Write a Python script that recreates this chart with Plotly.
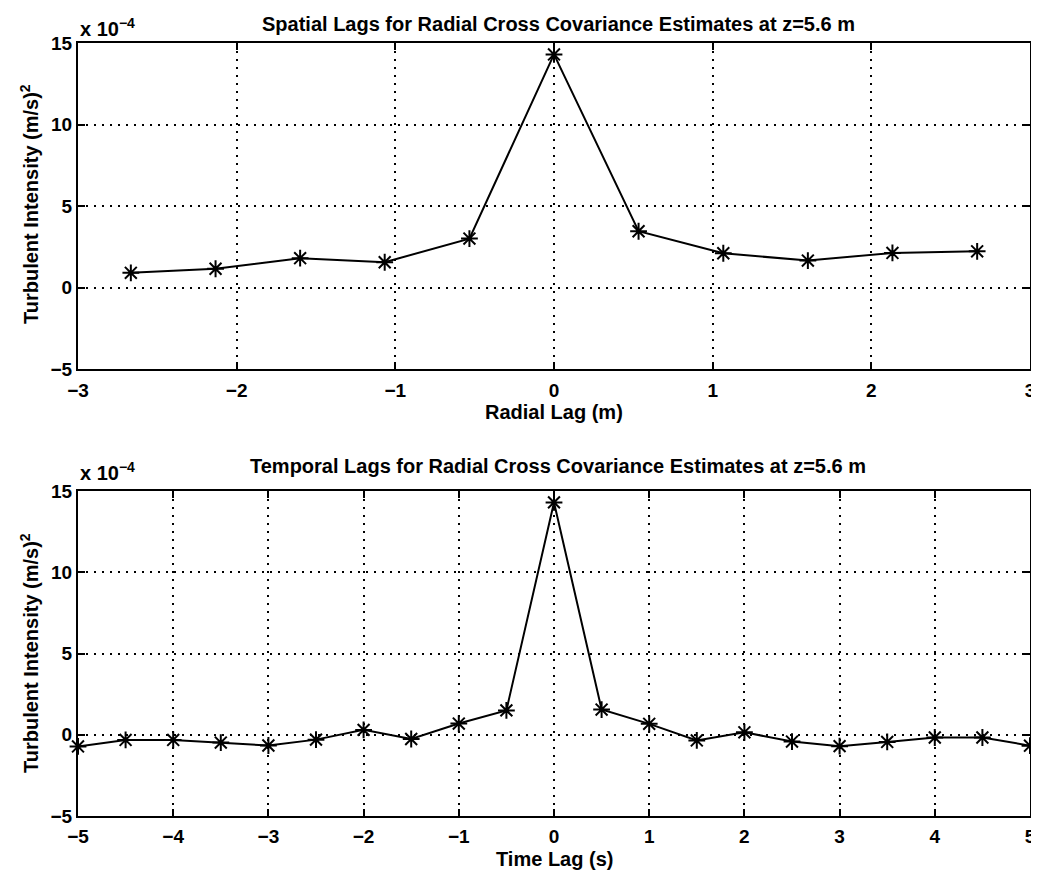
import plotly.graph_objects as go

# Top: spatial lags (m), values in units of 1e-4 (m/s)^2
radial_lag = [-2.667, -2.133, -1.6, -1.067, -0.533, 0.0, 0.533, 1.067, 1.6, 2.133, 2.667]
radial_cov = [0.9, 1.15, 1.8, 1.55, 3.0, 14.3, 3.45, 2.1, 1.65, 2.12, 2.22]

# Bottom: temporal lags (s)
time_lag = [-5, -4.5, -4, -3.5, -3, -2.5, -2, -1.5, -1, -0.5, 0, 0.5, 1, 1.5, 2, 2.5, 3, 3.5, 4, 4.5, 5]
time_cov = [-0.72, -0.32, -0.32, -0.48, -0.66, -0.3, 0.3, -0.26, 0.69, 1.5, 14.3,
            1.55, 0.67, -0.35, 0.15, -0.42, -0.7, -0.44, -0.17, -0.17, -0.67]

title_top = "Spatial Lags for Radial Cross Covariance Estimates at z=5.6 m"
title_bot = "Temporal Lags for Radial Cross Covariance Estimates at z=5.6 m"
ylabel = "Turbulent Intensity (m/s)<sup>2</sup>"
xlabel_top = "Radial Lag (m)"
xlabel_bot = "Time Lag (s)"

OFF = 8  # page body margin
W, H = 1039 - OFF, 875 - OFF
FONT = "Liberation Sans"

def px(x):
    return (x - OFF) / W

def py(y):
    return 1 - (y - OFF) / H

def lab(v):
    s = f"{v:g}".replace("-", "−")
    return f"<b>{s}</b>"

fig = go.Figure()
line = dict(color="black", width=2)
marker = dict(symbol="asterisk-open", size=14, color="black", line=dict(color="black", width=2))
fig.add_trace(go.Scatter(x=radial_lag, y=radial_cov, mode="lines+markers", line=line,
                         marker=marker, xaxis="x", yaxis="y", showlegend=False, cliponaxis=False))
fig.add_trace(go.Scatter(x=time_lag, y=time_cov, mode="lines+markers", line=line,
                         marker=marker, xaxis="x2", yaxis="y2", showlegend=False, cliponaxis=False))

tickfont = dict(family=FONT, size=19, color="black")
common = dict(showline=True, linecolor="black", linewidth=2, mirror="ticks",
              ticks="inside", ticklen=7, tickwidth=2, tickcolor="black",
              showgrid=True, gridcolor="black", griddash="2px,6px", gridwidth=1.5,
              zeroline=False, tickfont=tickfont, automargin=False,
              ticklabeloverflow="allow")

xticks_top = [-3, -2, -1, 0, 1, 2, 3]
xticks_bot = list(range(-5, 6))
yticks = [-5, 0, 5, 10, 15]

xdom = [px(78), px(1030)]
fig.update_layout(
    width=W, height=H,
    margin=dict(l=0, r=0, t=0, b=0, pad=0),
    paper_bgcolor="white", plot_bgcolor="white",
    font=dict(family=FONT, color="black"),
    xaxis=dict(domain=xdom, range=[-3, 3], tickvals=xticks_top, ticklabelstandoff=3,
               ticktext=[lab(v) for v in xticks_top], anchor="y", **common),
    yaxis=dict(domain=[py(369), py(43)], range=[-5, 15], tickvals=yticks,
               ticktext=[lab(v) for v in yticks], anchor="x", **common),
    xaxis2=dict(domain=xdom, range=[-5, 5], tickvals=xticks_bot, ticklabelstandoff=2,
                ticktext=[lab(v) for v in xticks_bot], anchor="y2", **common),
    yaxis2=dict(domain=[py(816), py(491)], range=[-5, 15], tickvals=yticks,
                ticktext=[lab(v) for v in yticks], anchor="x2", **common),
)

ann = []
def text(x, y, s, size=20, xanchor="center", yanchor="middle", angle=0):
    ann.append(dict(x=px(x), y=py(y), xref="paper", yref="paper", text=s, showarrow=False,
                    xanchor=xanchor, yanchor=yanchor, textangle=angle,
                    font=dict(family=FONT, size=size, color="black")))

# titles
text(558, 24, "<b>" + title_top + "</b>", size=20)
text(558, 466, "<b>" + title_bot + "</b>", size=20)
# exponent labels
text(78, 27, "<b>x 10<sup>−4</sup></b>", size=20, xanchor="left")
text(78, 471, "<b>x 10<sup>−4</sup></b>", size=20, xanchor="left")
# x titles
text(554, 412, "<b>" + xlabel_top + "</b>", size=20)
text(554, 859, "<b>" + xlabel_bot + "</b>", size=20)
# y titles
text(29, 204, "<b>" + ylabel + "</b>", size=20, angle=-90)
text(29, 653, "<b>" + ylabel + "</b>", size=20, angle=-90)

fig.update_layout(annotations=ann)
fig.write_html("out.html")
